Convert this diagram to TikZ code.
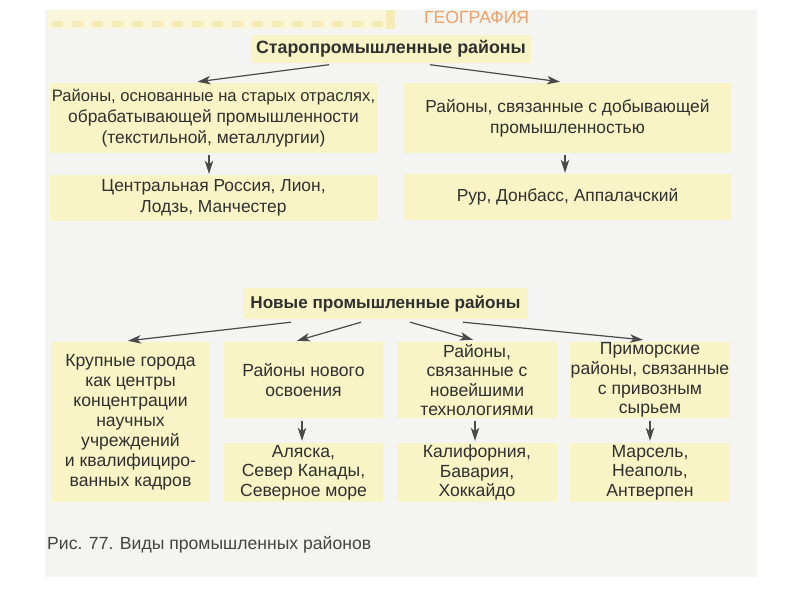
\documentclass[tikz,border=0pt]{standalone}
\usepackage{fontspec}
\setmainfont{Liberation Sans}
\usetikzlibrary{calc,arrows.meta}
\definecolor{panel}{HTML}{F4F4F3}
\definecolor{boxfill}{HTML}{F8F4C6}
\definecolor{txt}{HTML}{303030}
\definecolor{arrowc}{HTML}{4A4A4A}
\definecolor{geo}{HTML}{EFA264}
\definecolor{strip}{HTML}{FAF6DC}
\definecolor{stripdark}{HTML}{F4ECB4}
\definecolor{captc}{HTML}{444444}
\tikzset{
  box/.style={fill=boxfill, draw=none, inner sep=0pt, align=center, text=txt,
    font=\fontsize{17.4}{21}\selectfont},
  cbox/.style={box, font=\fontsize{17.6}{19.6}\selectfont},
  tbox/.style={box, font=\fontsize{17.8}{21}\bfseries\selectfont},
  arr/.style={draw=arrowc, line width=1.2pt, -{Stealth[length=13pt,width=8.5pt,inset=3.5pt]}},
}
\begin{document}
\begin{tikzpicture}[x=1pt,y=-1pt]
\useasboundingbox (0,0) rectangle (800,600);
\fill[white] (0,0) rectangle (800,600);
\fill[panel] (45,10) rectangle (757,577);
% header strip
\fill[strip] (47,10) rectangle (395,29);
\foreach \i in {0,...,16} {\fill[stripdark] (52+\i*20,21) rectangle (63+\i*20,27);}
\fill[stripdark] (386,10) rectangle (395,29);
\node[text=geo, font=\fontsize{17.6}{20}\selectfont, anchor=west, inner sep=0pt] (geo) at (424,17.5) {ГЕОГРАФИЯ};

% old industrial regions
\node[tbox, minimum width=280, minimum height=28] (t1) at (391,48.5) {Старопромышленные районы};
\node[box, minimum width=327, minimum height=70] (L1) at (213.5,118)
  {{\fontsize{16.6}{21}\selectfont Районы, основанные на старых отраслях,}\\обрабатывающей промышленности\\(текстильной, металлургии)};
\node[box, minimum width=327, minimum height=70] (R1) at (567.5,118)
  {Районы, связанные с добывающей\\промышленностью};
\node[box, minimum width=327, minimum height=46] (L2) at (213.5,198)
  {Центральная Россия, Лион,\\Лодзь, Манчестер};
\node[box, minimum width=327, minimum height=46] (R2) at (567.5,197)
  {Рур, Донбасс, Аппалачский};

\draw[arr] ($(t1.south)+(-62,2)$) -- ($(L1.north)+(-16,-1)$);
\draw[arr] ($(t1.south)+(39,2)$) -- ($(R1.north)+(-7.5,-1)$);
\draw[arr] ($(L1.south)+(-4.5,2)$) -- ($(L2.north)+(-4.5,-1)$);
\draw[arr] ($(R1.south)+(-2.5,2)$) -- ($(R2.north)+(-2.5,-1)$);

% new industrial regions
\node[tbox, minimum width=285, minimum height=31, font=\fontsize{17.1}{21}\bfseries\selectfont] (t2) at (385.5,303.5) {Новые промышленные районы};
\node[cbox, minimum width=159, minimum height=160, font=\fontsize{17.6}{20}\selectfont] (c1) at (130.5,422)
  {Крупные города\\как центры\\концентрации\\научных\\учреждений\\и квалифициро-\\ванных кадров};
\node[cbox, minimum width=159, minimum height=76] (c2) at (303.5,380)
  {Районы нового\\освоения};
\node[cbox, minimum width=160, minimum height=76] (c3) at (477,380)
  {Районы,\\связанные с\\новейшими\\технологиями};
\node[cbox, minimum width=160, minimum height=76] (c4) at (650,380)
  {Приморские\\районы, связанные\\с привозным\\сырьем};
\node[cbox, minimum width=159, minimum height=59] (d2) at (303.5,472.5)
  {Аляска,\\Север Канады,\\Северное море};
\node[cbox, minimum width=160, minimum height=59] (d3) at (477,472.5)
  {Калифорния,\\Бавария,\\Хоккайдо};
\node[cbox, minimum width=160, minimum height=59] (d4) at (650,472.5)
  {Марсель,\\Неаполь,\\Антверпен};

\draw[arr] ($(t2.south)+(-94.5,3)$) -- ($(c1.north)+(-2.5,-1)$);
\draw[arr] ($(t2.south)+(-24.5,3)$) -- ($(c2.north)+(-6.5,-1)$);
\draw[arr] ($(t2.south)+(24.5,3)$) -- ($(c3.north)+(-4,-2)$);
\draw[arr] ($(t2.south)+(77.5,3)$) -- ($(c4.north)+(-7,-2)$);
\draw[arr] ($(c2.south)+(-1.5,3)$) -- ($(d2.north)+(-1.5,-2)$);
\draw[arr] ($(c3.south)+(-2,3)$) -- ($(d3.north)+(-2,-2)$);
\draw[arr] ($(c4.south)+(0,3)$) -- ($(d4.north)+(0,-2)$);

\node[anchor=west, inner sep=0pt, text=captc, font=\fontsize{17.6}{20}\selectfont] (cap) at (47,545)
  {Рис. 77. Виды промышленных районов};
\end{tikzpicture}
\end{document}
